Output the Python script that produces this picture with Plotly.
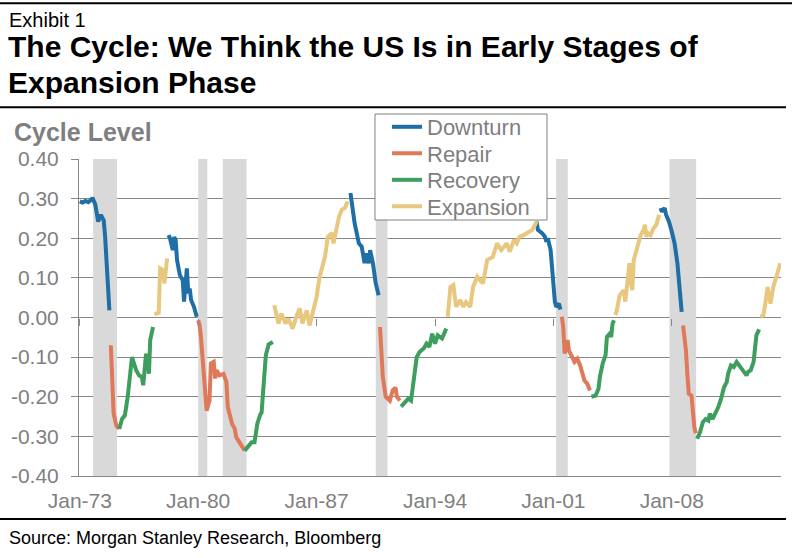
import plotly.graph_objects as go

# ---------------- data ----------------
downturn_dates = [
    "1973-01", "1973-03", "1973-05", "1973-07", "1973-09", "1973-10", "1973-12", "1974-02", "1974-04",
    "1974-06", "1974-07", "1974-08", "1974-09", "1974-10", "1975-06",
    "1978-04", "1978-05", "1978-07", "1978-08", "1978-09", "1978-10", "1978-12", "1979-02", "1979-03",
    "1979-05", "1979-06", "1979-07", "1979-08", "1979-10", "1979-12", "1980-06",
    "1989-01", "1989-03", "1989-04", "1989-07", "1989-09", "1989-11", "1989-12", "1990-02", "1990-03",
    "1990-05", "1990-07", "1990-09", "1991-06",
    "2000-01", "2000-02", "2000-05", "2000-07", "2000-08", "2000-09", "2000-11", "2000-12", "2001-01",
    "2001-02", "2001-03", "2001-05", "2001-06", "2002-06",
    "2007-05", "2007-06", "2007-07", "2007-08", "2007-09", "2007-11", "2008-01", "2008-03", "2008-05",
    "2008-06", "2008-07", "2008-08",
]
downturn_values = [
    0.293, 0.290, 0.294, 0.291, 0.297, 0.302, 0.285, 0.242, 0.259,
    0.245, 0.204, 0.145, 0.111, 0.018, None,
    0.208, 0.200, 0.170, 0.203, 0.196, 0.145, 0.107, 0.094, 0.040,
    0.124, 0.061, 0.073, 0.044, 0.027, 0.002, None,
    0.314, 0.255, 0.238, 0.187, 0.179, 0.137, 0.162, 0.137, 0.170,
    0.137, 0.086, 0.056, None,
    0.242, 0.221, 0.213, 0.204, 0.191, 0.200, 0.170, 0.120, 0.069,
    0.040, 0.027, 0.035, 0.020, None,
    0.276, 0.267, 0.272, 0.276, 0.259, 0.242, 0.217, 0.187, 0.137,
    0.103, 0.061, 0.014,
]

repair_dates = [
    "1974-11", "1974-12", "1975-01", "1975-03", "1975-05", "1976-01",
    "1980-01", "1980-02", "1980-03", "1980-05", "1980-06", "1980-07", "1980-09", "1980-10", "1980-12",
    "1981-01", "1981-02", "1981-04", "1981-07", "1981-09", "1981-10", "1982-01", "1982-03", "1982-04",
    "1982-07", "1982-10", "1983-06",
    "1990-10", "1990-11", "1990-12", "1991-02", "1991-05", "1991-07", "1991-09", "1991-10", "1991-12", "1992-06",
    "2001-07", "2001-08", "2001-09", "2001-11", "2001-12", "2002-02", "2002-04", "2002-06", "2002-08",
    "2002-10", "2002-11", "2003-01", "2003-03", "2003-09",
    "2008-09", "2008-11", "2008-12", "2009-01", "2009-03", "2009-04", "2009-05", "2009-06",
]
repair_values = [
    -0.070, -0.190, -0.243, -0.273, -0.281, None,
    -0.007, -0.020, -0.050, -0.142, -0.200, -0.235, -0.210, -0.116, -0.112,
    -0.154, -0.133, -0.146, -0.142, -0.163, -0.226, -0.268, -0.281, -0.302,
    -0.319, -0.336, None,
    -0.024, -0.074, -0.150, -0.200, -0.210, -0.184, -0.177, -0.200, -0.210, None,
    0.002, -0.024, -0.091, -0.057, -0.083, -0.100, -0.112, -0.104, -0.121,
    -0.146, -0.159, -0.167, -0.184, None,
    -0.020, -0.083, -0.142, -0.192, -0.197, -0.243, -0.277, -0.292,
]

recovery_dates = [
    "1975-05", "1975-07", "1975-09", "1975-11", "1976-02", "1976-05", "1976-07", "1976-09", "1976-10",
    "1976-12", "1977-01", "1977-02", "1977-03", "1977-05", "1978-01",
    "1982-10", "1982-12", "1983-03", "1983-05", "1983-07", "1983-09", "1983-10", "1983-11", "1983-12",
    "1984-01", "1984-03", "1984-05", "1984-06", "1985-01",
    "1992-01", "1992-04", "1992-06", "1992-08", "1992-10", "1992-12", "1993-02", "1993-05", "1993-07",
    "1993-09", "1993-11", "1994-01", "1994-03", "1994-06", "1994-09", "1995-03",
    "2003-04", "2003-07", "2003-09", "2003-10", "2003-12", "2004-02", "2004-03", "2004-05", "2004-06",
    "2004-07", "2004-08", "2005-01",
    "2009-07", "2009-09", "2009-11", "2010-01", "2010-03", "2010-04", "2010-06", "2010-09", "2010-10",
    "2010-12", "2011-02", "2011-04", "2011-05", "2011-07", "2011-09", "2011-11", "2012-01", "2012-03",
    "2012-06", "2012-07", "2012-09", "2012-11", "2012-12", "2013-01", "2013-03",
]
recovery_values = [
    -0.281, -0.256, -0.247, -0.200, -0.100, -0.133, -0.146, -0.150, -0.171,
    -0.091, -0.112, -0.142, -0.057, -0.024, None,
    -0.336, -0.328, -0.315, -0.315, -0.268, -0.245, -0.240, -0.190, -0.150,
    -0.095, -0.068, -0.065, -0.062, None,
    -0.225, -0.214, -0.205, -0.210, -0.159, -0.100, -0.087, -0.078, -0.066,
    -0.074, -0.041, -0.066, -0.045, -0.053, -0.028, None,
    -0.200, -0.197, -0.180, -0.150, -0.116, -0.095, -0.049, -0.041, -0.049,
    -0.015, -0.007, None,
    -0.306, -0.290, -0.264, -0.256, -0.260, -0.243, -0.256, -0.235, -0.226,
    -0.205, -0.176, -0.163, -0.142, -0.121, -0.125, -0.112, -0.121, -0.129,
    -0.146, -0.138, -0.133, -0.112, -0.074, -0.045, -0.030,
]

expansion_dates = [
    "1977-06", "1977-08", "1977-09", "1977-10", "1977-12", "1978-01", "1978-03", "1978-09",
    "1984-07", "1984-10", "1984-12", "1985-03", "1985-05", "1985-08", "1985-11", "1986-01", "1986-03",
    "1986-06", "1986-08", "1986-11", "1987-01", "1987-03", "1987-07", "1987-09", "1987-12", "1988-01",
    "1988-04", "1988-05", "1988-07", "1988-09", "1988-11", "1989-06",
    "1994-10", "1994-12", "1995-02", "1995-04", "1995-07", "1995-09", "1995-11", "1996-02", "1996-04",
    "1996-07", "1996-09", "1996-11", "1997-02", "1997-04", "1997-06", "1997-09", "1997-12", "1998-02",
    "1998-04", "1998-06", "1998-09", "1998-11", "1999-01", "1999-04", "1999-06", "1999-10", "1999-12",
    "2000-01", "2000-06",
    "2004-09", "2004-10", "2004-12", "2005-03", "2005-04", "2005-06", "2005-07", "2005-08", "2005-09",
    "2005-10", "2005-12", "2006-01", "2006-03", "2006-05", "2006-06", "2006-07", "2006-08", "2006-10",
    "2006-12", "2007-02", "2007-04", "2007-10",
    "2013-04", "2013-06", "2013-07", "2013-09", "2013-10", "2013-11", "2014-01", "2014-03", "2014-05",
    "2014-06",
]
expansion_values = [
    0.008, 0.010, 0.012, 0.124, 0.120, 0.086, 0.149, None,
    0.031, -0.015, 0.010, -0.015, -0.003, -0.028, 0.006, 0.023, -0.015,
    0.018, -0.020, 0.018, 0.052, 0.099, 0.153, 0.204, 0.213, 0.187,
    0.238, 0.255, 0.272, 0.276, 0.293, None,
    0.002, 0.077, 0.082, 0.027, 0.044, 0.027, 0.039, 0.027, 0.077,
    0.103, 0.094, 0.086, 0.145, 0.149, 0.153, 0.187, 0.170, 0.179,
    0.187, 0.166, 0.196, 0.187, 0.204, 0.208, 0.213, 0.221, 0.234,
    0.242, None,
    0.006, 0.018, 0.056, 0.069, 0.040, 0.120, 0.137, 0.086, 0.069,
    0.145, 0.170, 0.187, 0.208, 0.221, 0.234, 0.204, 0.213, 0.208,
    0.225, 0.234, 0.259, None,
    0.002, 0.006, 0.027, 0.077, 0.052, 0.035, 0.077, 0.103, 0.128,
    0.137,
]

recession_starts = ["1973-10-15", "1980-01-01", "1981-06-15", "1990-07-01", "2001-03-01", "2007-11-12"]
recession_ends = ["1975-03-15", "1980-07-15", "1982-11-10", "1991-03-12", "2001-11-06", "2009-06-10"]

x_tick_dates = ["1973-01-01", "1980-01-01", "1987-01-01", "1994-01-01", "2001-01-01", "2008-01-01"]
x_tick_labels = ["Jan-73", "Jan-80", "Jan-87", "Jan-94", "Jan-01", "Jan-08"]
y_tick_values = [-0.4, -0.3, -0.2, -0.1, 0.0, 0.1, 0.2, 0.3, 0.4]
y_tick_labels = ["-0.40", "-0.30", "-0.20", "-0.10", "0.00", "0.10", "0.20", "0.30", "0.40"]
x_range = ["1972-12-14", "2014-06-16"]

series_names = ["Downturn", "Repair", "Recovery", "Expansion"]
series_colors = ["#1f6ea6", "#e0785a", "#3d9e5e", "#e8c77e"]

# ---------------- layout geometry ----------------
W, H = 795, 558
ML, MR, MT, MB = 79, 14, 159, 82
PW, PH = W - ML - MR, H - MT - MB
FONT = "Arial, Liberation Sans, sans-serif"
GRID = "#878787"
LABEL = "#7f7f7f"
LEGEND_BOX = (375, 114, 547, 220)           # left, top, right, bottom in pixels
LEGEND_ROWS = [127, 153.5, 180, 206.5]       # item centres in pixels
LEGEND_LEFT = 387


def fx(px):
    return (px - ML) / PW


def fy(py):
    return (H - MB - py) / PH


fig = go.Figure()
legend_ids = ["legend", "legend2", "legend3", "legend4"]
for name, color, xs, ys, lid in zip(
    series_names,
    series_colors,
    [downturn_dates, repair_dates, recovery_dates, expansion_dates],
    [downturn_values, repair_values, recovery_values, expansion_values],
    legend_ids,
):
    fig.add_trace(go.Scatter(
        x=xs, y=ys, name=name, mode="lines",
        line=dict(color=color, width=4),
        connectgaps=False, hoverinfo="skip", legend=lid,
    ))

# helper trace for the tick marks along the 0.00 line
fig.add_trace(go.Scatter(x=[x_tick_dates[0]], y=[None], xaxis="x2", showlegend=False,
                         mode="lines", hoverinfo="skip"))

shapes = []
for s, e in zip(recession_starts, recession_ends):
    shapes.append(dict(type="rect", xref="x", yref="y", x0=s, x1=e, y0=-0.4, y1=0.4,
                       fillcolor="#d9d9d9", line=dict(width=0), layer="between"))
for py, x1 in [(3.3, 792), (107.3, 786), (519, 786)]:
    shapes.append(dict(type="line", xref="paper", yref="paper", x0=fx(0), x1=fx(x1),
                       y0=fy(py), y1=fy(py), line=dict(color="black", width=2)))
# legend frame
shapes.append(dict(type="rect", xref="paper", yref="paper",
                   x0=fx(LEGEND_BOX[0]), x1=fx(LEGEND_BOX[2]),
                   y0=fy(LEGEND_BOX[3]), y1=fy(LEGEND_BOX[1]),
                   fillcolor="white", line=dict(color="#808080", width=1), layer="above"))

annotations = [
    dict(text="Exhibit 1", x=fx(7), y=fy(20), font=dict(size=20, color="black", family=FONT)),
    dict(text="<b>The Cycle: We Think the US Is in Early Stages of</b>", x=fx(6), y=fy(47),
         font=dict(size=30, color="black", family=FONT)),
    dict(text="<b>Expansion Phase</b>", x=fx(6), y=fy(83), font=dict(size=30, color="black", family=FONT)),
    dict(text="<b>Cycle Level</b>", x=fx(12), y=fy(132), font=dict(size=25, color=LABEL, family=FONT)),
    dict(text="Source: Morgan Stanley Research, Bloomberg", x=fx(7), y=fy(538),
         font=dict(size=18, color="black", family=FONT)),
]
for a in annotations:
    a.update(xref="paper", yref="paper", xanchor="left", yanchor="middle", showarrow=False)

legend_layout = {}
for lid, row in zip(legend_ids, LEGEND_ROWS):
    legend_layout[lid] = dict(x=fx(LEGEND_LEFT), y=fy(row), xanchor="left", yanchor="middle",
                              bgcolor="rgba(0,0,0,0)", borderwidth=0,
                              font=dict(size=22, color=LABEL, family=FONT))

fig.update_layout(
    width=W, height=H, autosize=False,
    margin=dict(l=ML, r=MR, t=MT, b=MB, pad=0),
    paper_bgcolor="white", plot_bgcolor="white",
    font=dict(family=FONT, color=LABEL),
    showlegend=True,
    xaxis=dict(type="date", range=x_range, tickvals=x_tick_dates, ticktext=x_tick_labels,
               showgrid=False, zeroline=False, showline=True, linecolor=GRID, linewidth=1,
               ticks="", tickfont=dict(size=21, color=LABEL, family=FONT), ticklabelstandoff=6),
    xaxis2=dict(type="date", overlaying="x", matches="x", anchor="free", position=0.5, side="bottom",
                tickvals=x_tick_dates, showticklabels=False, ticks="outside", ticklen=7,
                tickcolor=GRID, showgrid=False, showline=False, zeroline=False),
    yaxis=dict(range=[-0.4, 0.4], tickvals=y_tick_values, ticktext=y_tick_labels,
               showgrid=True, gridcolor=GRID, gridwidth=1, zeroline=False,
               showline=True, linecolor=GRID, linewidth=1,
               ticks="outside", ticklen=7, tickcolor=GRID,
               tickfont=dict(size=21, color=LABEL, family=FONT), ticklabelstandoff=8),
    shapes=shapes,
    annotations=annotations,
    **legend_layout,
)

fig.write_html("out.html", config={"displayModeBar": False},
               post_script="document.body.style.margin='0';")
